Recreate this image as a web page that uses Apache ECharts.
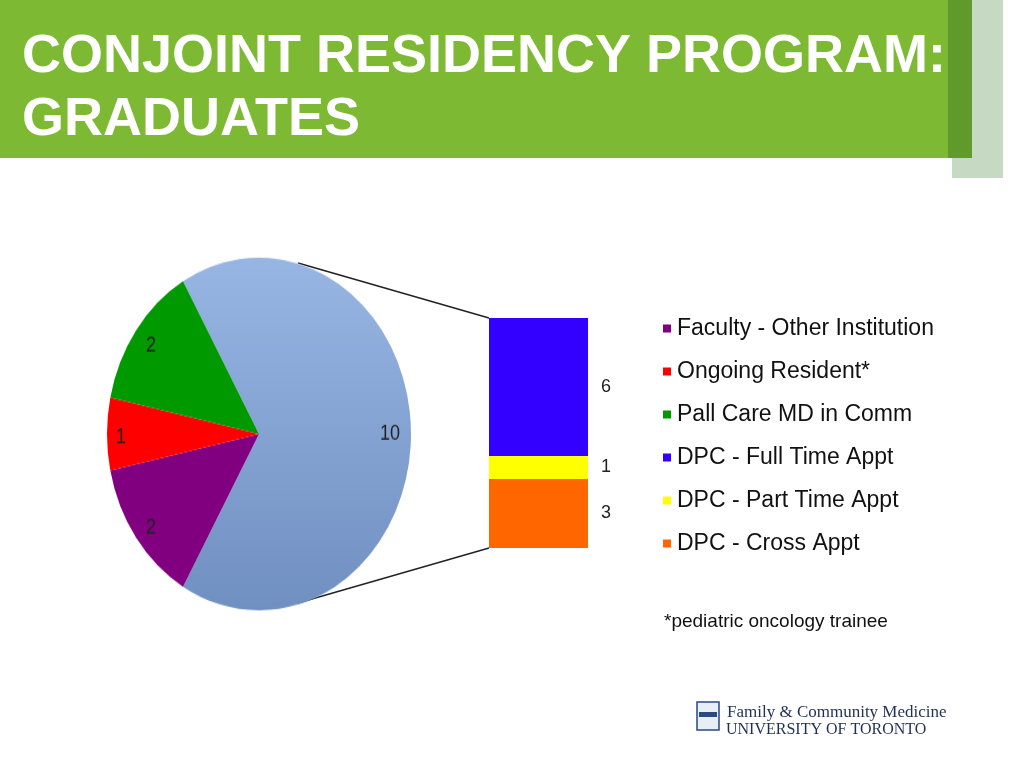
<!DOCTYPE html>
<html><head><meta charset="utf-8">
<script src="https://cdn.jsdelivr.net/npm/echarts@6/dist/echarts.min.js"></script>
<style>html,body{margin:0;padding:0;background:#fff}#wrap{position:relative;width:1024px;height:768px}
#c{position:absolute;left:0;top:0;width:1024px;height:768px}
#p{position:absolute;left:59px;top:234px;width:400px;height:400px;transform:scaleY(1.16);transform-origin:200px 200px}</style>
</head><body><div id="wrap"><div id="c"></div><div id="p"></div></div>
<script>
const pieNames = ['Other', 'Faculty - Other Institution', 'Ongoing Resident*', 'Pall Care MD in Comm'];
const pieValues = [10, 2, 1, 2];
const barNames = ['DPC - Cross Appt', 'DPC - Part Time Appt', 'DPC - Full Time Appt'];
const barValues = [3, 1, 6];
const legendOrder = ['Faculty - Other Institution','Ongoing Resident*','Pall Care MD in Comm','DPC - Full Time Appt','DPC - Part Time Appt','DPC - Cross Appt'];

const pieColors = [
  {type:'linear',x:0,y:0,x2:0,y2:1,colorStops:[{offset:0,color:'#97b6e3'},{offset:1,color:'#7190c2'}]},
  '#800080','#ff0000','#009900'];
const pieOffsets = [[52,0],[-44,35],[-59,3],[-44,-30]];
const barColors = ['#ff6600','#ffff00','#3300ff'];
const txt = {color:'#222', fontSize:18, fontFamily:'Liberation Sans'};

const pie = echarts.init(document.getElementById('p'));
pie.setOption({
  animation:false,
  series:[{
    type:'pie', center:[200,200], radius:152, startAngle:120, clockwise:true, silent:true,
    label:Object.assign({position:'inside', formatter:'{c}'}, txt),
    labelLine:{show:false},
    data: pieNames.map((n,i)=>({name:n, value:pieValues[i], itemStyle:{color:pieColors[i]},
      label:{offset:pieOffsets[i]}}))
  }]
});

const chart = echarts.init(document.getElementById('c'));
const series = [{
  type:'pie', radius:0, center:[-100,-100], silent:true, label:{show:false},
  data: pieNames.map((n,i)=>({name:n, value:pieValues[i], itemStyle:{color:pieColors[i]}}))
}];
barNames.forEach((n,i)=>series.push({
  type:'bar', name:n, stack:'s', data:[barValues[i]], barWidth:'100%',
  itemStyle:{color:barColors[i]},
  label:Object.assign({show:true, position:'right', distance:13}, txt)
}));

chart.setOption({
  animation:false,
  grid:{left:489, top:318, width:99, height:230},
  xAxis:{type:'category', data:['x'], show:false},
  yAxis:{type:'value', min:0, max:10, show:false},
  legend:{orient:'vertical', left:658, top:312, itemWidth:8, itemHeight:8, itemGap:20,
    icon:'rect', data:legendOrder,
    textStyle:{fontSize:23, color:'#111', fontFamily:'Liberation Sans', padding:[0,0,0,1]}},
  series: series,
  graphic:[
    {type:'rect', shape:{x:952,y:0,width:51,height:178}, style:{fill:'#c6d9c2'}, z:-1},
    {type:'rect', shape:{x:0,y:0,width:972,height:158}, style:{fill:'#5f9a2a'}},
    {type:'rect', shape:{x:0,y:0,width:948,height:158}, style:{fill:'#7db933'}},
    {type:'text', left:22, top:30, style:{text:'CONJOINT RESIDENCY PROGRAM:', fill:'#fff', font:'bold 54px Liberation Sans'}},
    {type:'text', left:22, top:93, style:{text:'GRADUATES', fill:'#fff', font:'bold 54px Liberation Sans'}},
    {type:'line', shape:{x1:298,y1:263,x2:489,y2:318}, style:{stroke:'#222', lineWidth:1.5}},
    {type:'line', shape:{x1:298,y1:603,x2:489,y2:548}, style:{stroke:'#222', lineWidth:1.5}},
    {type:'text', left:664, top:612, style:{text:'*pediatric oncology trainee', fill:'#111', font:'19px Liberation Sans'}},
    {type:'rect', shape:{x:697,y:702,width:22,height:28}, style:{fill:'#e8eef6', stroke:'#2a4a80', lineWidth:1.5}},
    {type:'rect', shape:{x:699,y:712,width:18,height:5}, style:{fill:'#2a4a80'}},
    {type:'text', left:727, top:704, style:{text:'Family & Community Medicine', fill:'#1f2f55', font:'17px Liberation Serif'}},
    {type:'text', left:726, top:722, style:{text:'UNIVERSITY OF TORONTO', fill:'#1f2f55', font:'16px Liberation Serif'}}
  ]
});
</script></body></html>
